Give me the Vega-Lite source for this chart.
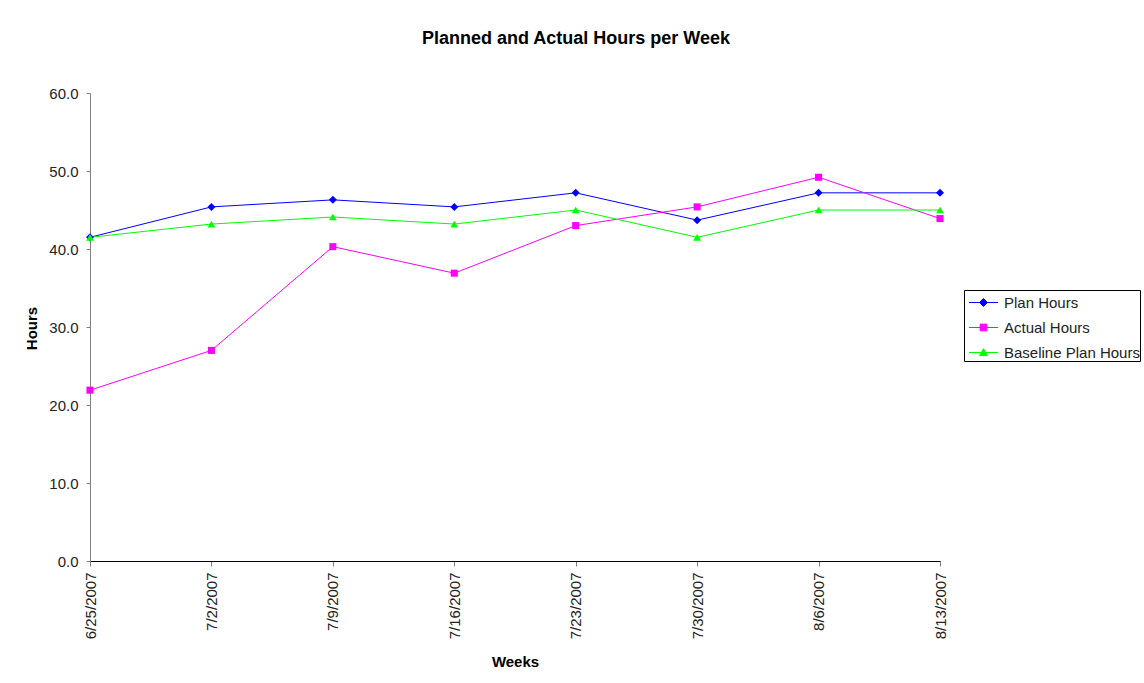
{
  "$schema": "https://vega.github.io/schema/vega-lite/v6.json",
  "width": 850,
  "height": 468,
  "autosize": {"type": "none"},
  "padding": {"left": 90, "top": 93, "right": 204, "bottom": 122},
  "background": "white",
  "title": {
    "text": "Planned and Actual Hours per Week",
    "font": "Liberation Sans",
    "fontSize": 18,
    "fontWeight": "bold",
    "color": "black",
    "anchor": "middle",
    "dx": 61,
    "offset": 38
  },
  "config": {
    "view": {"stroke": null},
    "font": "Liberation Sans"
  },
  "data": {
    "values": [
      {"week": "6/25/2007", "series": "Plan Hours", "hours": 41.5},
      {"week": "7/2/2007", "series": "Plan Hours", "hours": 45.4},
      {"week": "7/9/2007", "series": "Plan Hours", "hours": 46.3},
      {"week": "7/16/2007", "series": "Plan Hours", "hours": 45.4},
      {"week": "7/23/2007", "series": "Plan Hours", "hours": 47.2},
      {"week": "7/30/2007", "series": "Plan Hours", "hours": 43.7},
      {"week": "8/6/2007", "series": "Plan Hours", "hours": 47.2},
      {"week": "8/13/2007", "series": "Plan Hours", "hours": 47.2},
      {"week": "6/25/2007", "series": "Actual Hours", "hours": 21.9},
      {"week": "7/2/2007", "series": "Actual Hours", "hours": 27.0},
      {"week": "7/9/2007", "series": "Actual Hours", "hours": 40.3},
      {"week": "7/16/2007", "series": "Actual Hours", "hours": 36.9},
      {"week": "7/23/2007", "series": "Actual Hours", "hours": 43.0},
      {"week": "7/30/2007", "series": "Actual Hours", "hours": 45.4},
      {"week": "8/6/2007", "series": "Actual Hours", "hours": 49.2},
      {"week": "8/13/2007", "series": "Actual Hours", "hours": 43.9},
      {"week": "6/25/2007", "series": "Baseline Plan Hours", "hours": 41.5},
      {"week": "7/2/2007", "series": "Baseline Plan Hours", "hours": 43.2},
      {"week": "7/9/2007", "series": "Baseline Plan Hours", "hours": 44.1},
      {"week": "7/16/2007", "series": "Baseline Plan Hours", "hours": 43.2},
      {"week": "7/23/2007", "series": "Baseline Plan Hours", "hours": 45.0},
      {"week": "7/30/2007", "series": "Baseline Plan Hours", "hours": 41.5},
      {"week": "8/6/2007", "series": "Baseline Plan Hours", "hours": 45.0},
      {"week": "8/13/2007", "series": "Baseline Plan Hours", "hours": 45.0}
    ]
  },
  "encoding": {
    "x": {
      "field": "week",
      "type": "ordinal",
      "sort": null,
      "scale": {"padding": 0},
      "axis": {
        "title": "Weeks",
        "titleFont": "Liberation Sans",
        "titleFontSize": 15,
        "titleFontWeight": "bold",
        "titleColor": "black",
        "titleX": 425,
        "titleY": 100,
        "titleBaseline": "middle",
        "titleAlign": "center",
        "labelAngle": -90,
        "labelFont": "Liberation Sans",
        "labelFontSize": 15,
        "labelColor": "#222222",
        "labelPadding": 6,
        "tickSize": 5,
        "tickColor": "#808080",
        "domainColor": "black",
        "domainWidth": 1,
        "grid": false
      }
    },
    "y": {
      "field": "hours",
      "type": "quantitative",
      "scale": {"domain": [0, 60], "nice": false, "zero": true},
      "axis": {
        "title": "Hours",
        "titleFont": "Liberation Sans",
        "titleFontSize": 15,
        "titleFontWeight": "bold",
        "titleColor": "black",
        "titleAngle": -90,
        "titleX": -59,
        "titleY": 235,
        "titleBaseline": "middle",
        "titleAlign": "center",
        "values": [0, 10, 20, 30, 40, 50, 60],
        "format": ".1f",
        "labelFont": "Liberation Sans",
        "labelFontSize": 15,
        "labelColor": "#222222",
        "labelPadding": 8,
        "tickSize": 4,
        "tickColor": "#808080",
        "domainColor": "#808080",
        "grid": false
      }
    },
    "color": {
      "field": "series",
      "type": "nominal",
      "scale": {
        "domain": ["Plan Hours", "Actual Hours", "Baseline Plan Hours"],
        "range": ["#0000FF", "#FF00FF", "#00FF00"]
      },
      "legend": {
        "title": null,
        "orient": "none",
        "legendX": 874,
        "legendY": 197,
        "padding": 0,
        "strokeColor": "#000000",
        "fillColor": "white",
        "symbolSize": 576,
        "symbolStrokeWidth": 1,
        "symbolOffset": 7,
        "labelOffset": 8,
        "rowPadding": 4,
        "labelFont": "Liberation Sans",
        "labelFontSize": 15,
        "labelColor": "#222222",
        "labelLimit": 300,
        "encode": {
          "symbols": {
            "update": {
              "shape": {"signal": "datum.value === 'Plan Hours' ? 'M-1.21,0H1.21M0,-0.33L0.33,0L0,0.33L-0.33,0Z' : datum.value === 'Actual Hours' ? 'M-1.21,0H1.21M-0.28,-0.28H0.28V0.28H-0.28Z' : 'M-1.21,0H1.21M0,-0.32L0.32,0.26H-0.32Z'"},
              "fill": {"scale": "color", "field": "value"},
              "stroke": {"scale": "color", "field": "value"},
              "strokeWidth": {"value": 1},
              "opacity": {"value": 1}
            }
          }
        }
      }
    }
  },
  "layer": [
    {"mark": {"type": "line", "strokeWidth": 1}},
    {
      "transform": [{"filter": "datum.series === 'Plan Hours'"}],
      "mark": {"type": "point", "shape": "diamond", "filled": true, "opacity": 1, "size": 64}
    },
    {
      "transform": [{"filter": "datum.series === 'Actual Hours'"}],
      "mark": {"type": "point", "shape": "square", "filled": true, "opacity": 1, "size": 50}
    },
    {
      "transform": [{"filter": "datum.series === 'Baseline Plan Hours'"}],
      "mark": {"type": "point", "shape": "triangle-up", "filled": true, "opacity": 1, "size": 60}
    }
  ]
}
